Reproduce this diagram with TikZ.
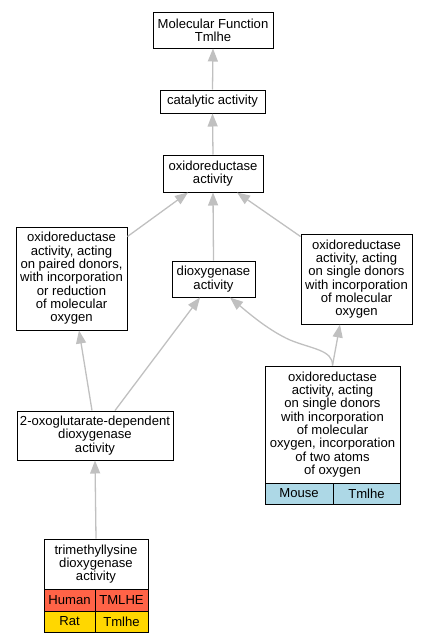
\documentclass[tikz,border=0pt]{standalone}
\usepackage{fontspec}
\setmainfont{Liberation Sans}
\usetikzlibrary{arrows.meta}
\definecolor{edgegray}{RGB}{192,192,192}
\definecolor{humanc}{RGB}{255,99,71}
\definecolor{ratc}{RGB}{255,215,0}
\definecolor{mousec}{RGB}{173,216,230}
\begin{document}
\begin{tikzpicture}[x=1pt,y=-1pt,
  box/.style={draw=black, line width=1pt, fill=white, align=center, inner sep=0pt,
    font=\fontsize{13.1}{13.3}\selectfont},
  edge/.style={draw=edgegray, line width=1.3pt, -{Triangle[length=13pt,width=10pt,fill=edgegray]}}]
\useasboundingbox (0,0) rectangle (427,643);

\node[box, minimum width=120pt, minimum height=36pt] (mf) at (213,30) {Molecular Function\\Tmlhe};
\node[box, minimum width=105pt, minimum height=23pt] (cat) at (212.5,101.5) {catalytic activity};
\node[box, minimum width=100pt, minimum height=37pt] (oxr) at (213,173.5) {oxidoreductase\\activity};
\node[box, minimum width=111pt, minimum height=103pt] (paired) at (71.5,278.5) {oxidoreductase\\activity, acting\\on paired donors,\\with incorporation\\or reduction\\of molecular\\oxygen};
\node[box, minimum width=83pt, minimum height=36pt] (diox) at (213.5,279) {dioxygenase\\activity};
\node[box, minimum width=111pt, minimum height=90pt] (rsingle) at (356.5,279) {oxidoreductase\\activity, acting\\on single donors\\with incorporation\\of molecular\\oxygen};
\node[box, minimum width=156pt, minimum height=49pt] (oxo) at (95,435.5) {2-oxoglutarate-dependent\\dioxygenase\\activity};

\node[box, minimum width=135pt, minimum height=117pt] (bsingle) at (332.5,424.5) {oxidoreductase\\activity, acting\\on single donors\\with incorporation\\of molecular\\oxygen, incorporation\\of two atoms\\of oxygen};
\node[box, fill=mousec, minimum width=68pt, minimum height=21pt] (mouse) at (299,493.5) {Mouse};
\node[box, fill=mousec, minimum width=67pt, minimum height=21pt] (mousegene) at (366.5,493.5) {Tmlhe};

\node[box, minimum width=104pt, minimum height=50pt] (tml) at (96,564) {trimethyllysine\\dioxygenase\\activity};
\node[box, fill=humanc, minimum width=51pt, minimum height=22pt] (human) at (69.5,600) {Human};
\node[box, fill=humanc, minimum width=53pt, minimum height=22pt] (humangene) at (121.5,600) {TMLHE};
\node[box, fill=ratc, minimum width=51pt, minimum height=21pt] (rat) at (69.5,621.5) {Rat};
\node[box, fill=ratc, minimum width=53pt, minimum height=21pt] (ratgene) at (121.5,621.5) {Tmlhe};

\draw[edge] (cat.north) -- (mf.south);
\draw[edge] (oxr.north) -- (cat.south);
\draw[edge] ([yshift=-10pt]paired.north east) -- ([xshift=-25pt]oxr.south);
\draw[edge] (diox.north) -- (oxr.south);
\draw[edge] ([yshift=-3pt]rsingle.north west) -- ([xshift=24pt]oxr.south);
\draw[edge] ([xshift=-3pt]oxo.north) -- ([xshift=7.5pt]paired.south);
\draw[edge] ([xshift=20pt]oxo.north) -- ([xshift=-13.5pt]diox.south);
\draw[edge] (bsingle.north) .. controls (333,350) and (312,349) .. (290,340)
  .. controls (270,331) and (252,316) .. ([xshift=16.5pt]diox.south);
\draw[edge] (bsingle.north) -- ([xshift=-16.5pt]rsingle.south);
\draw[edge] (tml.north) -- (oxo.south);
\end{tikzpicture}
\end{document}
